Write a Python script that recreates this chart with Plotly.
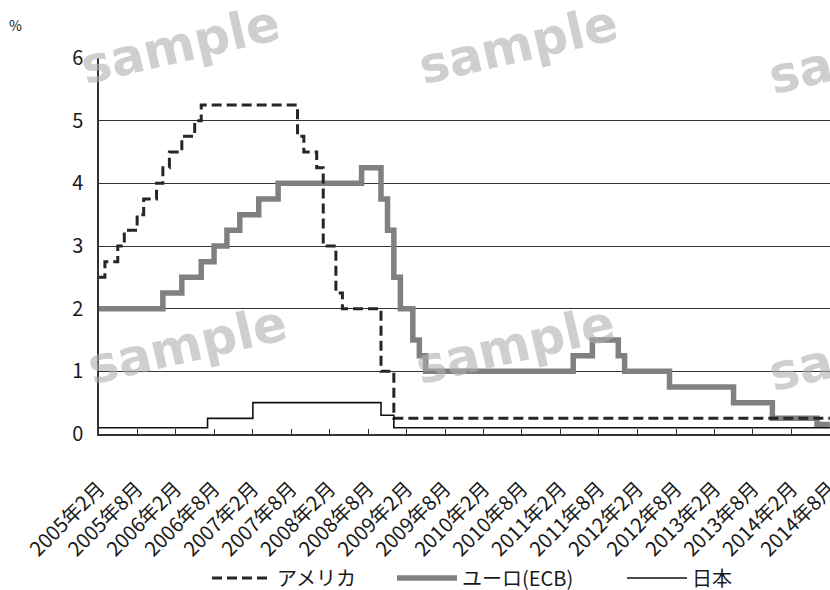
import plotly.graph_objects as go

# Policy rate changes (month of change, rate in %); the last entry holds the rate to Aug 2014
us_months = ["2005-02", "2005-03", "2005-05", "2005-06", "2005-08", "2005-09", "2005-11",
             "2005-12", "2006-01", "2006-03", "2006-05", "2006-06", "2007-09", "2007-10",
             "2007-12", "2008-01", "2008-03", "2008-04", "2008-10", "2008-12", "2014-08"]
us_rates = [2.5, 2.75, 3.0, 3.25, 3.5, 3.75, 4.0, 4.25, 4.5, 4.75, 5.0, 5.25, 4.75, 4.5,
            4.25, 3.0, 2.25, 2.0, 1.0, 0.25, 0.25]

ecb_months = ["2005-02", "2005-12", "2006-03", "2006-06", "2006-08", "2006-10", "2006-12",
              "2007-03", "2007-06", "2008-07", "2008-10", "2008-11", "2008-12", "2009-01",
              "2009-03", "2009-04", "2009-05", "2011-04", "2011-07", "2011-11", "2011-12",
              "2012-07", "2013-05", "2013-11", "2014-06", "2014-08"]
ecb_rates = [2.0, 2.25, 2.5, 2.75, 3.0, 3.25, 3.5, 3.75, 4.0, 4.25, 3.75, 3.25, 2.5, 2.0,
             1.5, 1.25, 1.0, 1.25, 1.5, 1.25, 1.0, 0.75, 0.5, 0.25, 0.15, 0.15]

jp_months = ["2005-02", "2006-07", "2007-02", "2008-10", "2008-12", "2014-08"]
jp_rates = [0.1, 0.25, 0.5, 0.3, 0.1, 0.1]

# Axis ticks every six months
tick_months = [f"{y}-{m:02d}" for y in range(2005, 2015) for m in (2, 8)]
tick_labels = [f"{y}年{m}月" for y in range(2005, 2015) for m in (2, 8)]

series_names = ["アメリカ", "ユーロ(ECB)", "日本"]

FONT = "Noto Sans CJK JP, Liberation Sans, sans-serif"

# plot area in pixels, used to place free text in paper coordinates
W, H = 830, 590
L, R, T, B = 99, 0, 58, 156
PW, PH = W - L - R, H - T - B
X_RANGE = ["2005-02-01", "2014-08-01 12:00"]


def px_to_paper(px, py):
    return (px - L) / PW, (H - B - py) / PH


fig = go.Figure()

fig.add_trace(go.Scatter(
    x=[m + "-01" for m in ecb_months], y=ecb_rates, name=series_names[1],
    mode="lines", line=dict(color="#808080", width=5.5, shape="hv"), legend="legend2",
))
fig.add_trace(go.Scatter(
    x=[m + "-01" for m in us_months], y=us_rates, name=series_names[0],
    mode="lines", line=dict(color="#262626", width=3, shape="hv", dash="10px,5px"),
    legend="legend",
))
fig.add_trace(go.Scatter(
    x=[m + "-01" for m in jp_months], y=jp_rates, name=series_names[2],
    mode="lines", line=dict(color="#111111", width=1.6, shape="hv"), legend="legend3",
))
# empty trace that keeps the label axis (x2) on the page
fig.add_trace(go.Scatter(
    x=[X_RANGE[0]], y=[None], xaxis="x2", yaxis="y", mode="lines",
    showlegend=False, hoverinfo="skip",
))

legend_common = dict(
    orientation="h", xref="container", yref="container", xanchor="left",
    y=1 - 578 / H, yanchor="middle", font=dict(size=20), itemwidth=60,
    bgcolor="rgba(0,0,0,0)",
)

tickvals = [m + "-01" for m in tick_months]

fig.update_layout(
    width=W, height=H,
    margin=dict(l=L, r=R, t=T, b=B, autoexpand=False),
    paper_bgcolor="white", plot_bgcolor="white",
    font=dict(family=FONT, size=18, color="#1a1a1a"),
    showlegend=True,
    legend=dict(x=207 / W, **legend_common),
    legend2=dict(x=392 / W, **legend_common),
    legend3=dict(x=622 / W, **legend_common),
    # data axis: short inside tick marks, no labels
    xaxis=dict(
        type="date", range=X_RANGE, tickvals=tickvals, showticklabels=False,
        ticks="inside", ticklen=5, tickcolor="#333333", tickwidth=1,
        showline=True, linecolor="#333333", linewidth=1.5,
        showgrid=False, zeroline=False, automargin=False,
    ),
    # label axis: same dates, labels pushed below the axis line
    xaxis2=dict(
        type="date", range=X_RANGE, overlaying="x", anchor="y", side="bottom",
        tickvals=tickvals, ticktext=tick_labels, tickangle=-45,
        ticks="outside", ticklen=34, tickcolor="rgba(0,0,0,0)",
        showline=False, showgrid=False, zeroline=False, automargin=False,
        tickfont=dict(size=20), ticklabeloverflow="allow",
    ),
    yaxis=dict(
        range=[0, 6], tickvals=[0, 1, 2, 3, 4, 5, 6], ticks="",
        showline=True, linecolor="#333333", linewidth=1.5,
        showgrid=True, gridcolor="#333333", gridwidth=1, zeroline=False,
        automargin=False, ticklabelstandoff=10, tickfont=dict(size=20),
    ),
)

ax, ay = px_to_paper(15, 25)
fig.add_annotation(
    text="%", xref="paper", yref="paper", x=ax, y=ay,
    xanchor="center", yanchor="middle", showarrow=False, font=dict(size=14),
)

# "sample" watermark stamps
for cx, cy in [(180, 45), (518, 45), (868, 55), (187, 345), (515, 345), (868, 352)]:
    wx, wy = px_to_paper(cx, cy)
    fig.add_annotation(
        text="<b>sample</b>", xref="paper", yref="paper",
        x=wx, y=wy, xanchor="center", yanchor="middle",
        showarrow=False, textangle=-13,
        font=dict(family="DejaVu Sans", size=50, color="rgba(175,175,175,0.6)"),
    )

fig.write_html("out.html")
